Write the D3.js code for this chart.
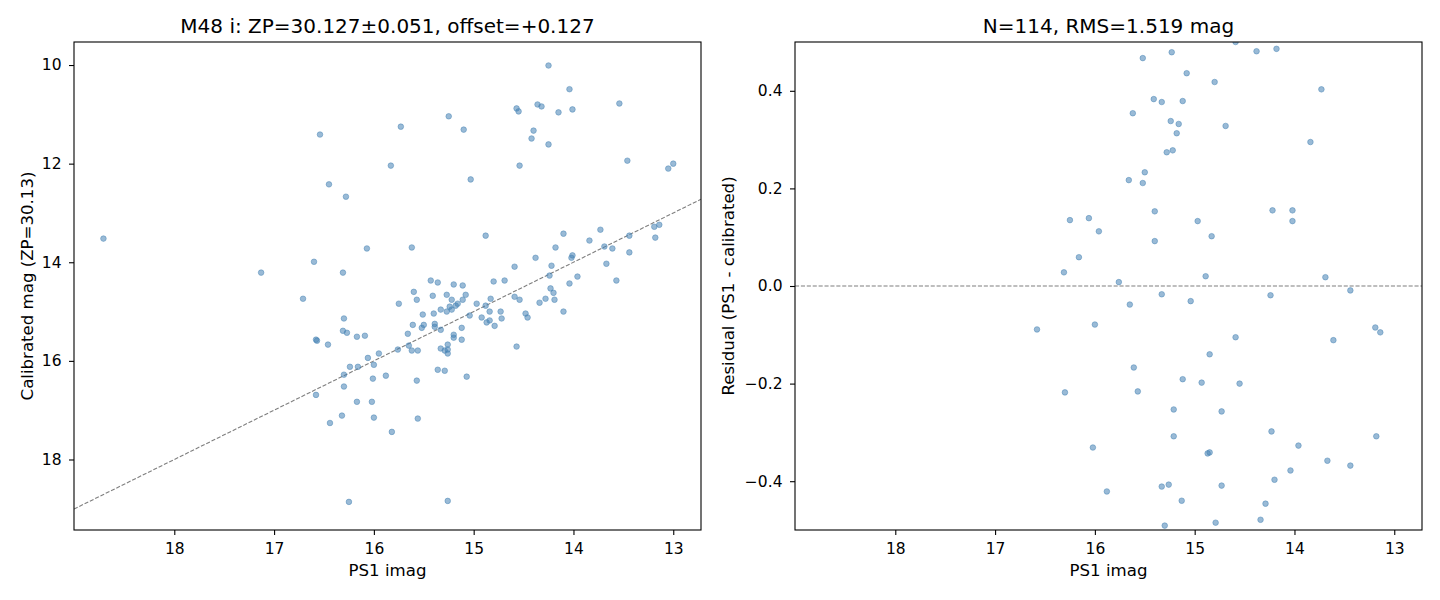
<!DOCTYPE html>
<html>
<head>
	<script src="https://d3js.org/d3.v7.min.js"></script>
	<meta charset="utf-8">
	<title>M48 i calibration</title>
	<style>
		body { margin: 0; background: #fff; }
		text { font-family: "DejaVu Sans", sans-serif; fill: #000; }
	</style>
</head>
<body>
	<div id="chart"></div>

	<script type="text/javascript">

		// left panel: PS1 imag vs calibrated mag
		var calPs1 = [18.71,16.54,16.45,16.28,16.07,16.60,17.13,16.31,14.25,14.04,14.57,14.55,14.36,14.32,14.15,14.01,13.54,15.25,15.73,15.10,
			14.40,14.42,14.25,15.83,14.54,15.03,13.46,13.05,13.00,14.88,15.62,14.10,13.73,13.84,14.18,13.69,13.61,13.44,13.19,13.14,
			13.18,13.44,14.38,14.02,14.01,14.22,13.67,14.59,14.24,13.96,16.71,16.30,16.31,16.27,16.17,16.09,16.58,16.57,16.46,16.06,
			15.95,16.00,16.24,16.16,16.30,15.88,16.01,16.30,16.58,16.17,16.02,16.32,16.44,16.00,15.82,16.25,15.43,15.36,15.20,15.11,
			14.80,14.69,15.60,15.57,15.41,15.27,15.08,15.22,15.11,15.16,15.18,15.24,15.22,15.27,15.33,15.75,14.97,14.83,14.88,14.84,
			14.73,14.59,14.54,14.34,14.48,14.46,14.72,14.79,14.92,14.87,14.84,15.04,15.51,15.40,15.61,15.50,15.52,15.39,15.39,15.33,
			15.12,15.66,15.20,15.20,15.12,15.65,15.76,15.62,15.56,15.26,15.33,15.29,15.26,15.26,14.57,15.57,15.36,15.29,15.07,15.56,
			15.26,13.57,14.04,14.23,14.20,14.28,14.19,14.10];
		var calMag = [13.52,11.41,12.42,12.67,13.72,13.99,14.21,14.21,10.01,10.49,10.88,10.94,10.80,10.84,10.96,10.90,10.78,11.04,11.25,11.31,
			11.33,11.49,11.61,12.04,12.04,12.32,11.94,12.10,12.00,13.46,13.70,13.42,13.34,13.56,13.70,13.68,13.72,13.46,13.28,13.24,
			13.50,13.80,13.91,13.91,13.86,14.07,14.03,14.09,14.27,14.29,14.74,15.14,15.39,15.43,15.51,15.49,15.57,15.59,15.67,15.94,
			15.85,16.08,16.12,16.12,16.28,16.30,16.36,16.52,16.69,16.83,16.83,17.11,17.26,17.15,17.44,18.86,14.37,14.41,14.45,14.47,
			14.39,14.37,14.60,14.76,14.68,14.66,14.66,14.76,14.76,14.84,14.88,14.90,14.96,15.00,14.96,14.84,14.84,14.74,14.88,15.00,
			15.00,14.70,14.76,14.82,15.04,15.12,15.14,15.29,15.12,15.22,15.18,15.08,15.06,15.04,15.27,15.27,15.33,15.25,15.31,15.37,
			15.33,15.45,15.47,15.53,15.57,15.69,15.77,15.79,15.79,15.67,15.75,15.79,15.77,15.85,15.71,16.40,16.18,16.20,16.32,17.17,
			18.84,14.37,14.43,14.53,14.62,14.74,14.76,15.00];

		// right panel: residuals
		var resPs1 = [15.23,15.52,15.08,14.80,15.41,15.33,15.12,15.62,15.24,15.16,15.18,15.28,15.22,15.50,15.66,15.52,15.40,16.25,16.06,15.96,
			14.97,14.83,15.40,16.16,16.31,14.89,15.76,14.59,14.38,14.18,13.73,14.69,13.84,14.22,14.02,14.02,13.69,15.33,15.65,15.04,
			16.58,16.00,14.85,15.61,15.12,14.93,16.30,15.57,15.21,14.73,15.21,16.02,14.87,14.85,15.88,15.33,15.26,15.13,14.73,15.30,
			14.79,14.24,13.44,13.19,13.14,14.59,13.61,14.55,14.23,13.96,13.18,13.67,13.44,14.04,14.20,14.29,14.34];
		var resVal = [0.479,0.467,0.436,0.418,0.383,0.377,0.379,0.354,0.338,0.332,0.313,0.274,0.278,0.233,0.217,0.211,0.153,0.135,0.139,0.112,
			0.133,0.102,0.092,0.059,0.028,0.020,0.008,0.500,0.481,0.486,0.403,0.328,0.295,0.155,0.155,0.133,0.018,-0.017,-0.038,-0.031,
			-0.089,-0.079,-0.140,-0.167,-0.191,-0.198,-0.218,-0.216,-0.253,-0.257,-0.308,-0.331,-0.343,-0.341,-0.421,-0.411,-0.407,-0.440,-0.409,-0.491,
			-0.485,-0.019,-0.009,-0.085,-0.095,-0.105,-0.111,-0.200,-0.298,-0.327,-0.308,-0.358,-0.368,-0.378,-0.397,-0.446,-0.479];

		var xTicks = [18, 17, 16, 15, 14, 13];
		var magTicks = [10, 12, 14, 16, 18];
		var resTicks = [-0.4, -0.2, 0.0, 0.2, 0.4];

		var titleLeft = "M48 i: ZP=30.127\u00b10.051, offset=+0.127";
		var titleRight = "N=114, RMS=1.519 mag";

		var svgwidth = 1440;
		var svgheight = 600;
		var plotTop = 42, plotBottom = 530, plotw = 627;
		var tickLen = 5, tickPad = 7.5;

		var svg = d3.select("#chart").append("svg")
			.attr("width", svgwidth)
			.attr("height", svgheight);

		var drawPanel = function(left, xs, ys, yScale, yTicks, yFmt, title, ylabel, labelOff, clipId, isResid){
			var xScale = d3.scaleLinear()
				.domain([19.005, 12.722])
				.range([left, left + plotw]);

			var g = svg.append("g");

			g.append("clipPath").attr("id", clipId)
				.append("rect")
				.attr("x", left).attr("y", plotTop)
				.attr("width", plotw).attr("height", plotBottom - plotTop);

			var plot = g.append("g").attr("clip-path", "url(#" + clipId + ")");

			// reference line (y = x, or zero residual)
			var lineData = isResid
				? [[19.005, 0], [12.722, 0]]
				: [[19.005, 19.005], [12.722, 12.722]];
			plot.append("path")
				.attr("d", d3.line()
					.x(function(d){ return xScale(d[0]); })
					.y(function(d){ return yScale(d[1]); })(lineData))
				.attr("fill", "none")
				.attr("stroke", "#7f7f7f")
				.attr("stroke-width", 1.1)
				.attr("stroke-dasharray", "4.1,1.8");

			plot.selectAll(".dot")
				.data(d3.range(xs.length)).enter().append("circle")
				.attr("class", "dot")
				.attr("cx", function(i){ return xScale(xs[i]); })
				.attr("cy", function(i){ return yScale(ys[i]); })
				.attr("r", 2.8)
				.attr("fill", "#4682b4")
				.attr("fill-opacity", 0.55)
				.attr("stroke", "#4682b4")
				.attr("stroke-opacity", 0.6)
				.attr("stroke-width", 0.8);

			// axes
			var xAxis = g.append("g")
				.attr("transform", "translate(0," + plotBottom + ")")
				.call(d3.axisBottom(xScale).tickValues(xTicks).tickFormat(d3.format("d"))
					.tickSize(tickLen).tickPadding(tickPad).tickSizeOuter(0));
			var yAxis = g.append("g")
				.attr("transform", "translate(" + left + ",0)")
				.call(d3.axisLeft(yScale).tickValues(yTicks).tickFormat(yFmt)
					.tickSize(tickLen).tickPadding(tickPad).tickSizeOuter(0));

			[xAxis, yAxis].forEach(function(a){
				a.attr("font-size", null);
				a.select(".domain").remove();
				a.selectAll("line").attr("stroke", "#000").attr("stroke-width", 1.1);
				a.selectAll("text")
					.style("font-family", "DejaVu Sans")
					.style("font-size", "15.5px")
					.attr("fill", "#000");
			});

			g.append("rect")
				.attr("x", left).attr("y", plotTop)
				.attr("width", plotw).attr("height", plotBottom - plotTop)
				.attr("fill", "none")
				.attr("stroke", "#000")
				.attr("stroke-width", 1.1);

			g.append("text")
				.attr("x", left + plotw / 2)
				.attr("y", 33)
				.attr("text-anchor", "middle")
				.style("font-size", "20px")
				.text(title);

			g.append("text")
				.attr("x", left + plotw / 2)
				.attr("y", 576)
				.attr("text-anchor", "middle")
				.style("font-size", "16.6px")
				.text("PS1 imag");

			g.append("text")
				.attr("transform", "translate(" + (left - labelOff) + "," + ((plotTop + plotBottom) / 2) + ") rotate(-90)")
				.attr("text-anchor", "middle")
				.style("font-size", "16.6px")
				.text(ylabel);
		};

		var yMag = d3.scaleLinear().domain([9.533, 19.43]).range([plotTop, plotBottom]);
		var yRes = d3.scaleLinear().domain([-0.5, 0.5]).range([plotBottom, plotTop]);

		drawPanel(74, calPs1, calMag, yMag, magTicks, d3.format("d"), titleLeft, "Calibrated mag (ZP=30.13)", 41, "clipL", false);
		drawPanel(795, resPs1, resVal, yRes, resTicks, d3.format(".1f"), titleRight, "Residual (PS1 - calibrated)", 61, "clipR", true);

	</script>

</body>
</html>
